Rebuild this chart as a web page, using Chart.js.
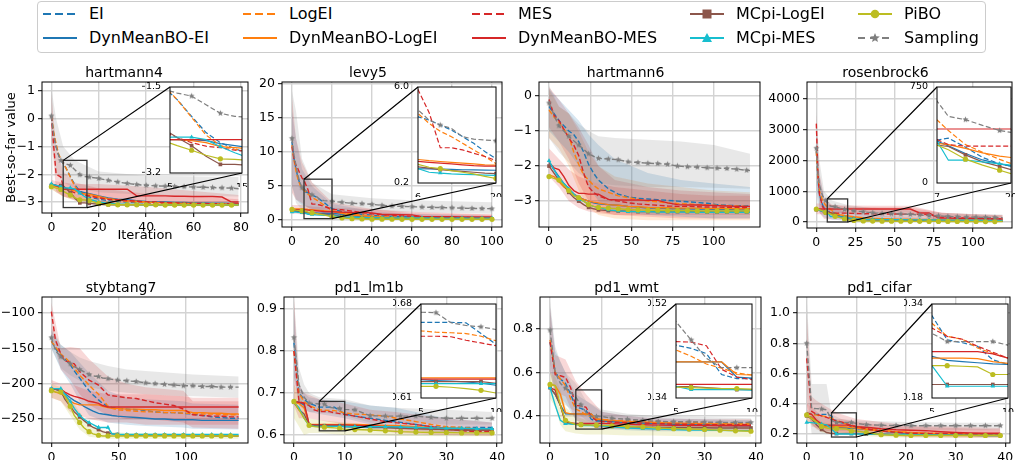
<!DOCTYPE html>
<html>
<head>
<meta charset="utf-8">
<script src="https://cdn.jsdelivr.net/npm/chart.js@4.4.1/dist/chart.umd.min.js"></script>
<style>
body{margin:0;background:#fff;width:1015px;height:460px;position:relative;overflow:hidden;font-family:"DejaVu Sans",sans-serif}
canvas{position:absolute}
#legend{position:absolute;left:37px;top:1px;width:947px;height:50px;border:1px solid #cccccc;border-radius:4px}
.lab{position:absolute;font-size:16px;line-height:20px;white-space:nowrap;color:#000}
</style>
</head>
<body>
<div id="legend"></div>
<script>
// ---- series names (legend order, column by column)
const names = ['EI','DynMeanBO-EI','LogEI','DynMeanBO-LogEI','MES','DynMeanBO-MES','MCpi-LogEI','MCpi-MES','PiBO','Sampling'];

// ---- hartmann4
const h4X = [0,1,2,3,4,5,6,8,10,12,14,16,20,24,28,32,36,40,44,48,52,56,60,64,68,72,76,79];
const h4EI = [0.1,-0.6,-1.0,-1.3,-1.5,-1.62,-1.75,-2.08,-2.4,-2.6,-2.72,-2.82,-2.9,-2.95,-2.98,-3.0,-3.02,-3.03,-3.04,-3.05,-3.05,-3.06,-3.06,-3.07,-3.07,-3.08,-3.08,-3.08];
const h4DynEI = [-2.35,-2.38,-2.4,-2.42,-2.45,-2.54,-2.54,-2.54,-2.56,-2.62,-2.66,-2.7,-2.78,-2.85,-2.9,-2.92,-2.95,-2.98,-3.0,-3.0,-3.02,-3.02,-3.03,-3.03,-3.04,-3.04,-3.05,-3.05];
const h4LogEI = [0.1,-0.5,-0.9,-1.25,-1.45,-1.6,-1.75,-2.1,-2.45,-2.66,-2.73,-2.78,-2.85,-2.9,-2.95,-2.97,-3.0,-3.02,-3.03,-3.04,-3.05,-3.06,-3.06,-3.07,-3.07,-3.08,-3.08,-3.08];
const h4DynLogEI = [-2.4,-2.42,-2.44,-2.46,-2.5,-2.54,-2.54,-2.56,-2.6,-2.68,-2.7,-2.72,-2.8,-2.88,-2.92,-2.95,-2.97,-3.0,-3.02,-3.03,-3.04,-3.05,-3.05,-3.06,-3.06,-3.07,-3.08,-3.08];
const h4MES = [0.1,-1.0,-2.0,-2.05,-2.1,-2.44,-2.5,-2.6,-2.67,-2.7,-2.75,-2.78,-2.85,-2.9,-2.92,-2.95,-2.97,-3.0,-3.0,-3.02,-3.03,-3.04,-3.05,-3.05,-3.06,-3.06,-3.07,-3.07];
const h4DynMES = [-2.35,-2.38,-2.4,-2.45,-2.5,-2.54,-2.54,-2.54,-2.54,-2.54,-2.54,-2.54,-2.54,-2.54,-2.54,-2.54,-2.78,-2.78,-2.78,-2.78,-2.79,-2.79,-2.8,-2.8,-2.8,-2.82,-3.0,-3.0];
const h4McLogEI = [-2.4,-2.4,-2.41,-2.41,-2.41,-2.41,-2.5,-2.66,-2.87,-3.03,-3.03,-3.05,-3.08,-3.1,-3.1,-3.1,-3.1,-3.1,-3.1,-3.1,-3.11,-3.11,-3.11,-3.11,-3.11,-3.11,-3.11,-3.11];
const h4McMES = [-2.35,-2.38,-2.4,-2.42,-2.45,-2.49,-2.49,-2.49,-2.54,-2.68,-2.8,-2.9,-3.0,-3.05,-3.07,-3.08,-3.09,-3.1,-3.1,-3.1,-3.1,-3.1,-3.1,-3.1,-3.1,-3.1,-3.1,-3.1];
const h4PiBO = [-2.45,-2.47,-2.5,-2.52,-2.55,-2.61,-2.66,-2.75,-2.85,-2.92,-2.93,-2.95,-3.05,-3.08,-3.1,-3.1,-3.1,-3.1,-3.1,-3.11,-3.11,-3.11,-3.11,-3.11,-3.11,-3.11,-3.11,-3.11];
const h4Samp = [0.1,-0.6,-1.0,-1.3,-1.5,-1.58,-1.62,-1.68,-1.85,-2.02,-2.08,-2.1,-2.15,-2.22,-2.28,-2.33,-2.37,-2.4,-2.42,-2.43,-2.44,-2.45,-2.46,-2.47,-2.48,-2.49,-2.5,-2.52];
const h4BX = [0,2,5,10,20,40,79];
const h4SampHi = [1.1,0.0,-1.0,-1.5,-1.9,-2.05,-2.1], h4SampLo = [-0.9,-1.9,-2.3,-2.5,-2.65,-2.75,-2.8];
const h4MESHi = [0.9,-1.0,-1.9,-2.3,-2.5,-2.7,-2.9], h4MESLo = [-0.7,-2.6,-2.8,-2.95,-3.05,-3.15,-3.15];
const h4DynMESHi = [-2.2,-2.25,-2.3,-2.35,-2.35,-2.45,-2.75], h4DynMESLo = [-2.5,-2.65,-2.8,-2.9,-3.0,-3.05,-3.1];
const h4PiBOHi = [-2.35,-2.4,-2.5,-2.7,-2.95,-3.05,-3.08], h4PiBOLo = [-2.55,-2.65,-2.8,-2.95,-3.12,-3.14,-3.14];
const h4XTicks = [0,20,40,60,80], h4YTicks = [-3,-2,-1,0,1];
const h4ZoomX = [5,15], h4ZoomY = [-3.2,-1.5];

// ---- levy5
const lvX = [0,1,2,3,4,5,6,8,10,12,14,16,18,20,25,30,35,40,45,50,55,60,65,70,75,80,85,90,95,100];
const lvEI = [11.5,9,7.5,6.2,5.3,4.6,4.2,4.0,3.7,3.4,3.0,2.6,2.1,1.67,1.2,1.0,0.85,0.7,0.6,0.55,0.5,0.45,0.4,0.38,0.35,0.32,0.3,0.28,0.26,0.25];
const lvDynEI = [1.32,1.3,1.28,1.25,1.2,1.15,1.07,1.05,1.04,1.02,1.0,0.99,0.98,0.97,0.85,0.6,0.5,0.45,0.42,0.4,0.36,0.33,0.3,0.3,0.28,0.27,0.26,0.26,0.25,0.25];
const lvLogEI = [11,8.8,7.2,6,5.2,4.6,4.4,3.8,3.32,3.0,2.6,2.2,1.8,1.37,1.1,0.9,0.75,0.6,0.5,0.45,0.4,0.35,0.3,0.28,0.25,0.22,0.2,0.18,0.16,0.15];
const lvDynLogEI = [1.6,1.62,1.63,1.63,1.62,1.62,1.62,1.55,1.5,1.45,1.4,1.35,1.3,1.28,1.0,0.7,0.6,0.5,0.4,0.35,0.32,0.3,0.25,0.22,0.2,0.18,0.17,0.16,0.15,0.15];
const lvMES = [10.8,9,8,7.5,6.8,6.2,5.84,4.45,2.33,2.33,2.2,2.0,1.8,1.56,1.5,1.3,1.1,0.9,0.8,0.7,0.6,0.55,0.5,0.45,0.42,0.4,0.38,0.35,0.32,0.3];
const lvDynMES = [1.5,1.52,1.52,1.52,1.51,1.51,1.51,1.45,1.4,1.35,1.3,1.25,1.22,1.22,1.15,1.1,1.1,1.05,0.8,0.8,0.78,0.75,0.5,0.5,0.48,0.48,0.46,0.45,0.45,0.45];
const lvMcLogEI = [1.4,1.38,1.35,1.3,1.25,1.2,1.17,1.1,1.0,0.95,0.9,0.85,0.8,0.77,0.5,0.3,0.25,0.22,0.2,0.2,0.18,0.18,0.17,0.16,0.16,0.15,0.15,0.15,0.15,0.15];
const lvMcMES = [1.2,1.18,1.15,1.12,1.1,1.08,1.07,0.85,0.8,0.75,0.72,0.7,0.68,0.66,0.45,0.4,0.35,0.32,0.3,0.3,0.3,0.3,0.3,0.28,0.28,0.28,0.28,0.27,0.27,0.27];
const lvPiBO = [1.55,1.5,1.45,1.42,1.4,1.35,1.33,1.15,1.07,0.95,0.85,0.75,0.6,0.47,0.3,0.2,0.15,0.12,0.12,0.11,0.1,0.1,0.1,0.1,0.1,0.1,0.1,0.1,0.1,0.1];
const lvSamp = [12,9.5,8,6.5,5.5,4.75,4.62,4.0,3.7,3.5,3.0,2.85,2.8,2.75,2.6,2.45,2.4,2.3,2.15,2.05,2.0,1.95,1.9,1.85,1.82,1.8,1.75,1.7,1.68,1.65];
const lvBX = [0,2,5,10,20,40,60,100];
const lvSampHi = [19,16,9,5.5,3.8,3.2,2.9,2.6], lvSampLo = [5,2.5,1.5,1.5,1.5,1.3,1.1,0.9];
const lvMESHi = [18,12,8.5,5.5,2.6,1.6,1.2,0.8], lvMESLo = [4,3,2.5,1.3,0.6,0.3,0.2,0.1];
const lvEIHi = [16,12,7.5,5,2.4,1.3,0.9,0.6], lvEILo = [5,3,2.2,1.6,0.5,0.2,0.15,0.1];
const lvDynMESHi = [2.2,2.2,2.2,2.0,1.8,1.6,1.0,0.8], lvDynMESLo = [0.9,0.9,0.8,0.7,0.5,0.3,0.2,0.1];
const lvXTicks = [0,20,40,60,80,100], lvYTicks = [0,5,10,15,20];
const lvZoomX = [6,20], lvZoomY = [0.2,6.0];

// ---- hartmann6
const h6X = [0,3,6,9,12,15,18,21,24,27,30,36,42,48,54,60,66,72,78,84,90,96,102,108,114,120,122];
const h6EI = [-0.3,-0.5,-0.7,-0.85,-1.0,-1.1,-1.3,-1.6,-1.95,-2.2,-2.4,-2.65,-2.8,-2.88,-2.92,-2.94,-2.96,-2.98,-3.0,-3.02,-3.04,-3.06,-3.1,-3.12,-3.13,-3.14,-3.14];
const h6DynEI = [-1.9,-2.1,-2.3,-2.5,-2.65,-2.8,-2.88,-2.95,-3.0,-3.05,-3.08,-3.1,-3.12,-3.15,-3.17,-3.2,-3.2,-3.21,-3.22,-3.22,-3.23,-3.23,-3.24,-3.24,-3.25,-3.25,-3.25];
const h6LogEI = [-0.4,-0.6,-0.75,-0.95,-1.15,-1.6,-1.95,-2.25,-2.4,-2.55,-2.65,-2.75,-2.85,-2.9,-2.95,-3.0,-3.02,-3.05,-3.07,-3.08,-3.1,-3.11,-3.12,-3.13,-3.14,-3.15,-3.15];
const h6DynLogEI = [-2.25,-2.3,-2.45,-2.6,-2.7,-2.8,-2.9,-2.95,-3.0,-3.03,-3.05,-3.1,-3.12,-3.15,-3.16,-3.18,-3.19,-3.19,-3.2,-3.2,-3.2,-3.21,-3.21,-3.21,-3.22,-3.22,-3.22];
const h6MES = [-0.1,-0.55,-0.7,-0.95,-1.2,-1.4,-1.7,-2.2,-2.6,-2.75,-2.85,-2.95,-3.0,-3.05,-3.08,-3.1,-3.12,-3.14,-3.15,-3.15,-3.16,-3.17,-3.17,-3.18,-3.18,-3.19,-3.2];
const h6DynMES = [-1.9,-2.05,-2.1,-2.3,-2.55,-2.7,-2.78,-2.78,-2.8,-2.8,-2.8,-2.95,-2.97,-2.97,-2.97,-2.98,-2.98,-3.05,-3.1,-3.11,-3.11,-3.12,-3.13,-3.14,-3.15,-3.15,-3.15];
const h6McLogEI = [-2.0,-2.2,-2.4,-2.55,-2.75,-2.9,-3.0,-3.1,-3.18,-3.22,-3.25,-3.27,-3.28,-3.29,-3.3,-3.3,-3.3,-3.3,-3.3,-3.3,-3.3,-3.31,-3.31,-3.31,-3.31,-3.31,-3.31];
const h6McMES = [-1.85,-2.1,-2.35,-2.5,-2.65,-2.8,-2.95,-3.0,-3.1,-3.15,-3.18,-3.25,-3.28,-3.3,-3.3,-3.3,-3.31,-3.31,-3.31,-3.31,-3.32,-3.32,-3.32,-3.32,-3.32,-3.32,-3.32];
const h6PiBO = [-2.3,-2.35,-2.4,-2.55,-2.7,-2.85,-2.9,-3.0,-3.1,-3.15,-3.18,-3.2,-3.22,-3.24,-3.25,-3.26,-3.26,-3.27,-3.27,-3.27,-3.28,-3.28,-3.28,-3.28,-3.28,-3.28,-3.28];
const h6Samp = [-0.2,-0.55,-0.85,-1.0,-1.15,-1.28,-1.4,-1.52,-1.65,-1.72,-1.78,-1.8,-1.82,-1.88,-1.9,-1.92,-1.93,-1.95,-2.0,-2.02,-2.03,-2.05,-2.06,-2.07,-2.09,-2.12,-2.13];
const h6BX = [0,6,12,18,24,30,40,60,80,100,122];
const h6SampHi = [0.3,-0.3,-0.5,-0.8,-1.0,-1.15,-1.2,-1.25,-1.3,-1.4,-1.65], h6SampLo = [-1.2,-1.6,-1.9,-2.2,-2.4,-2.5,-2.55,-2.6,-2.6,-2.62,-2.65];
const h6EIHi = [0.2,-0.1,-0.4,-0.7,-1.1,-1.4,-1.8,-2.2,-2.4,-2.5,-2.6], h6EILo = [-1.0,-1.3,-1.6,-2.0,-2.6,-3.0,-3.3,-3.4,-3.45,-3.5,-3.5];
const h6MESHi = [0.25,-0.1,-0.5,-0.9,-1.4,-2.0,-2.4,-2.6,-2.7,-2.75,-2.8], h6MESLo = [-0.9,-1.3,-1.8,-2.5,-3.0,-3.3,-3.4,-3.45,-3.5,-3.5,-3.5];
const h6LogEIHi = [0.2,-0.3,-0.5,-1.0,-1.6,-2.0,-2.3,-2.5,-2.6,-2.7,-2.75], h6LogEILo = [-1.2,-1.5,-2.0,-2.7,-3.2,-3.4,-3.5,-3.55,-3.55,-3.55,-3.55];
const h6DynMESHi = [-1.5,-1.8,-2.1,-2.3,-2.4,-2.5,-2.6,-2.7,-2.8,-2.85,-2.85], h6DynMESLo = [-2.3,-2.6,-3.0,-3.2,-3.3,-3.35,-3.4,-3.4,-3.4,-3.4,-3.4];
const h6XTicks = [0,25,50,75,100], h6YTicks = [-3,-2,-1,0];

// ---- rosenbrock6
const rbX = [0,1,2,4,6,7,9,12,15,18,20,24,30,36,42,48,54,60,66,72,78,84,90,96,102,108,114,119];
const rbEI = [2300,1400,900,550,380,336,350,280,200,150,131,110,90,80,70,60,55,50,48,45,42,40,38,36,35,34,33,32];
const rbDynEI = [420,410,400,370,340,328,290,230,180,150,131,110,90,75,65,58,52,48,45,42,40,38,36,34,33,32,31,30];
const rbLogEI = [2300,1500,1000,700,540,493,410,300,240,185,152,130,110,95,85,75,70,65,60,57,54,51,48,46,44,42,41,40];
const rbDynLogEI = [420,410,400,350,315,309,300,270,235,210,199,170,140,120,110,100,95,90,85,80,75,70,65,60,58,55,52,50];
const rbMES = [3200,1600,900,500,380,340,300,288,288,288,288,280,270,265,262,260,258,255,250,245,160,150,140,130,120,110,100,95];
const rbDynMES = [430,425,422,422,422,422,422,422,422,422,422,422,422,422,422,422,422,422,293,293,130,125,120,115,110,105,100,100];
const rbMcLogEI = [400,390,380,340,305,296,285,220,165,130,105,90,70,55,45,40,36,33,30,28,26,25,24,23,22,21,20,20];
const rbMcMES = [400,390,380,350,330,328,178,178,165,150,139,110,90,80,76,74,72,70,68,66,64,62,60,58,56,54,52,50];
const rbPiBO = [420,410,400,360,310,296,260,186,140,100,73,50,35,30,28,26,24,22,21,20,19,18,17,16,16,15,15,15];
const rbSamp = [2400,1600,1200,850,700,640,520,495,450,410,395,360,330,300,280,270,260,250,230,210,200,180,170,160,155,150,145,140];
const rbBX = [0,2,5,10,20,40,60,80,100,119];
const rbSampHi = [3600,2000,1000,700,550,420,380,300,260,240], rbSampLo = [1200,600,350,300,250,170,130,100,80,70];
const rbMESHi = [3500,1600,800,550,500,480,470,300,250,220], rbMESLo = [2500,300,100,80,80,70,60,40,30,20];
const rbDynMESHi = [600,600,580,560,540,530,530,300,250,220], rbDynMESLo = [250,250,250,280,300,300,300,50,30,20];
const rbEIHi = [3200,1500,800,500,300,200,150,120,100,90], rbEILo = [1000,300,150,80,30,20,15,10,10,10];
const rbXTicks = [0,25,50,75,100], rbYTicks = [0,1000,2000,3000,4000];
const rbZoomX = [7,20], rbZoomY = [0,750];

// ---- stybtang7
const stX = [0,3,7,10,14,17,21,24,28,31,35,38,42,45,49,56,63,70,77,84,91,98,105,112,119,126,133,139];
const stEI = [-140,-150,-160,-165,-173,-182,-192,-200,-210,-216,-223,-228,-232,-234,-235,-236,-237,-238,-240,-241,-241,-242,-243,-245,-247,-248,-249,-249];
const stDynEI = [-208,-208,-210,-214,-220,-224,-228,-232,-236,-239,-242,-243,-244,-245,-246,-247,-248,-249,-250,-250,-251,-251,-251,-252,-252,-252,-252,-252];
const stLogEI = [-140,-148,-158,-163,-170,-178,-188,-194,-202,-208,-215,-222,-232,-235,-237,-238,-239,-240,-240,-241,-241,-242,-242,-243,-243,-244,-244,-244];
const stDynLogEI = [-208,-212,-214,-218,-225,-228,-230,-230,-230,-230,-230,-232,-234,-235,-235,-236,-236,-237,-237,-238,-238,-238,-241,-241,-242,-242,-243,-243];
const stMES = [-98,-138,-158,-168,-170,-172,-183,-188,-195,-198,-202,-208,-216,-217,-218,-220,-221,-224,-227,-229,-231,-236,-244,-245,-246,-246,-247,-247];
const stDynMES = [-207,-207,-208,-212,-216,-218,-220,-222,-225,-226,-228,-231,-233,-233,-233,-233,-233,-233,-233,-233,-233,-233,-233,-233,-233,-233,-233,-233];
const stMcLogEI = [-208,-208,-210,-222,-232,-240,-247,-252,-258,-262,-265,-268,-270,-271,-272,-273,-273,-273,-273,-273,-273,-273,-274,-274,-274,-274,-274,-274];
const stMcMES = [-207,-207,-207,-215,-225,-235,-245,-250,-255,-258,-262,-262,-262,-271,-272,-272,-272,-272,-272,-272,-272,-272,-272,-272,-272,-272,-272,-272];
const stPiBO = [-210,-212,-212,-218,-232,-245,-255,-262,-268,-271,-273,-274,-274,-274,-274,-274,-274,-274,-274,-274,-274,-274,-274,-274,-274,-274,-274,-274];
const stSamp = [-135,-153,-162,-167,-172,-176,-180,-183,-187,-189,-190,-192,-193,-194,-195,-196,-197,-199,-200,-201,-202,-203,-203,-204,-204,-205,-205,-205];
const stBX = [0,7,14,21,28,42,56,70,98,105,139];
const stSampHi = [-120,-145,-155,-163,-168,-175,-180,-182,-186,-187,-190], stSampLo = [-150,-178,-188,-196,-205,-210,-213,-215,-218,-218,-220];
const stMESHi = [-85,-150,-148,-150,-165,-190,-200,-205,-210,-225,-225], stMESLo = [-130,-180,-195,-215,-230,-245,-250,-250,-255,-262,-264];
const stDynMESHi = [-195,-200,-200,-205,-210,-215,-215,-215,-218,-220,-220], stDynMESLo = [-220,-225,-240,-245,-250,-255,-255,-258,-258,-258,-258];
const stEIHi = [-125,-145,-155,-170,-185,-210,-220,-222,-225,-228,-230], stEILo = [-150,-180,-200,-225,-245,-255,-258,-260,-262,-264,-265];
const stPiBOHi = [-200,-205,-220,-240,-258,-268,-270,-270,-271,-271,-271], stPiBOLo = [-220,-225,-245,-265,-275,-278,-278,-278,-278,-278,-278];
const stXTicks = [0,50,100], stYTicks = [-250,-200,-150,-100];

// ---- pd1 tasks share one iteration grid
const pdX = [0,1,2,3,4,5,6,7,8,9,10,12,15,18,21,24,27,30,33,36,39];
const pdXTicks = [0,10,20,30,40];
const pdZoomX = [5,10];

// pd1_lm1b
const lmEI = [0.82,0.7,0.685,0.675,0.671,0.6663,0.6663,0.6663,0.666,0.658,0.65,0.645,0.64,0.635,0.63,0.625,0.62,0.618,0.618,0.618,0.618];
const lmDynEI = [0.68,0.678,0.672,0.625,0.624,0.6237,0.623,0.6225,0.622,0.621,0.6195,0.619,0.618,0.618,0.617,0.617,0.616,0.616,0.615,0.615,0.615];
const lmLogEI = [0.8,0.7,0.68,0.67,0.665,0.66,0.659,0.6586,0.658,0.656,0.6526,0.65,0.648,0.645,0.638,0.632,0.625,0.62,0.618,0.615,0.615];
const lmDynLogEI = [0.678,0.675,0.665,0.626,0.625,0.625,0.625,0.625,0.625,0.625,0.625,0.625,0.624,0.623,0.622,0.62,0.618,0.617,0.615,0.614,0.613];
const lmMES = [0.8,0.68,0.675,0.67,0.66,0.656,0.656,0.6556,0.653,0.651,0.6489,0.645,0.638,0.632,0.628,0.625,0.62,0.615,0.61,0.608,0.608];
const lmDynMES = [0.68,0.678,0.676,0.625,0.624,0.624,0.624,0.624,0.624,0.624,0.624,0.623,0.622,0.62,0.618,0.616,0.614,0.613,0.612,0.612,0.612];
const lmMcLogEI = [0.678,0.66,0.65,0.623,0.6225,0.6222,0.6222,0.6222,0.6222,0.6222,0.621,0.62,0.62,0.618,0.616,0.615,0.614,0.613,0.612,0.612,0.612];
const lmMcMES = [0.678,0.665,0.64,0.622,0.621,0.6207,0.6207,0.6207,0.6207,0.6207,0.6207,0.62,0.62,0.62,0.619,0.618,0.617,0.616,0.616,0.615,0.615];
const lmPiBO = [0.68,0.66,0.64,0.623,0.62,0.6187,0.6187,0.618,0.617,0.6157,0.6137,0.613,0.612,0.61,0.608,0.607,0.606,0.606,0.605,0.605,0.605];
const lmSamp = [0.832,0.72,0.69,0.676,0.675,0.674,0.6735,0.666,0.664,0.663,0.661,0.66,0.646,0.645,0.645,0.645,0.642,0.64,0.64,0.64,0.64];
const lmBX = [0,1,2,3,5,10,15,20,30,39];
const lmSampHi = [0.93,0.76,0.72,0.7,0.69,0.685,0.67,0.665,0.66,0.655], lmSampLo = [0.74,0.68,0.665,0.655,0.655,0.645,0.63,0.63,0.625,0.625];
const lmMESHi = [0.93,0.72,0.7,0.695,0.685,0.675,0.66,0.655,0.64,0.63], lmMESLo = [0.67,0.64,0.64,0.64,0.635,0.625,0.615,0.605,0.6,0.598];
const lmEIHi = [0.9,0.72,0.7,0.69,0.685,0.68,0.67,0.665,0.64,0.63], lmEILo = [0.74,0.67,0.66,0.655,0.65,0.64,0.625,0.615,0.605,0.605];
const lmPiBOHi = [0.72,0.7,0.68,0.64,0.635,0.63,0.625,0.62,0.618,0.615], lmPiBOLo = [0.64,0.62,0.6,0.605,0.605,0.6,0.6,0.598,0.597,0.597];
const lmYTicks = [0.6,0.7,0.8,0.9];
const lmZoomY = [0.61,0.68];

// pd1_wmt
const wmEI = [0.74,0.6,0.57,0.55,0.5,0.441,0.435,0.425,0.385,0.377,0.377,0.375,0.372,0.37,0.368,0.366,0.364,0.362,0.361,0.36,0.36];
const wmDynEI = [0.53,0.5,0.45,0.41,0.409,0.409,0.409,0.409,0.409,0.38,0.378,0.375,0.37,0.368,0.365,0.362,0.36,0.358,0.357,0.356,0.355];
const wmLogEI = [0.75,0.6,0.57,0.54,0.48,0.432,0.42,0.405,0.397,0.388,0.384,0.38,0.378,0.376,0.375,0.373,0.372,0.37,0.368,0.366,0.365];
const wmDynLogEI = [0.545,0.54,0.5,0.415,0.41,0.409,0.409,0.409,0.409,0.385,0.384,0.38,0.375,0.373,0.37,0.368,0.366,0.365,0.363,0.362,0.36];
const wmMES = [0.74,0.59,0.585,0.578,0.53,0.448,0.447,0.44,0.395,0.38,0.375,0.372,0.37,0.368,0.365,0.363,0.362,0.36,0.36,0.36,0.36];
const wmDynMES = [0.53,0.52,0.45,0.37,0.368,0.366,0.366,0.366,0.366,0.366,0.366,0.365,0.362,0.36,0.358,0.357,0.356,0.356,0.355,0.355,0.355];
const wmMcLogEI = [0.53,0.5,0.45,0.37,0.365,0.3624,0.362,0.36,0.358,0.356,0.356,0.354,0.35,0.349,0.348,0.347,0.346,0.346,0.345,0.345,0.345];
const wmMcMES = [0.53,0.45,0.38,0.365,0.363,0.362,0.356,0.356,0.356,0.356,0.355,0.35,0.345,0.342,0.34,0.338,0.336,0.335,0.334,0.333,0.333];
const wmPiBO = [0.545,0.54,0.45,0.38,0.37,0.361,0.36,0.359,0.358,0.358,0.357,0.355,0.352,0.35,0.345,0.342,0.34,0.338,0.335,0.332,0.33];
const wmSamp = [0.795,0.6,0.55,0.528,0.51,0.486,0.451,0.416,0.398,0.398,0.398,0.39,0.385,0.38,0.375,0.374,0.373,0.372,0.371,0.37,0.37];
const wmBX = [0,1,2,3,5,7,10,15,20,30,39];
const wmSampHi = [0.93,0.72,0.65,0.6,0.55,0.47,0.43,0.41,0.4,0.395,0.39], wmSampLo = [0.65,0.5,0.46,0.45,0.42,0.38,0.36,0.35,0.345,0.345,0.345];
const wmMESHi = [0.9,0.68,0.67,0.66,0.56,0.5,0.42,0.4,0.39,0.385,0.385], wmMESLo = [0.6,0.5,0.5,0.49,0.38,0.36,0.34,0.34,0.335,0.335,0.335];
const wmEIHi = [0.9,0.7,0.65,0.6,0.5,0.47,0.42,0.4,0.39,0.385,0.38], wmEILo = [0.6,0.5,0.48,0.46,0.38,0.36,0.34,0.335,0.33,0.33,0.33];
const wmPiBOHi = [0.6,0.58,0.52,0.44,0.4,0.38,0.375,0.37,0.365,0.36,0.355], wmPiBOLo = [0.48,0.44,0.36,0.33,0.32,0.315,0.315,0.31,0.31,0.305,0.305];
const wmYTicks = [0.4,0.6,0.8];
const wmZoomY = [0.34,0.52];

// pd1_cifar
const cfEI = [0.34,0.33,0.33,0.33,0.33,0.32,0.279,0.274,0.268,0.245,0.237,0.23,0.22,0.212,0.205,0.203,0.202,0.201,0.2,0.2,0.2];
const cfDynEI = [0.32,0.31,0.28,0.26,0.255,0.251,0.244,0.242,0.24,0.238,0.237,0.23,0.22,0.21,0.205,0.2,0.198,0.197,0.196,0.195,0.195];
const cfLogEI = [0.33,0.33,0.325,0.32,0.315,0.307,0.285,0.28,0.265,0.256,0.248,0.24,0.225,0.215,0.21,0.205,0.203,0.2,0.2,0.2,0.2];
const cfDynLogEI = [0.32,0.31,0.28,0.255,0.25,0.248,0.248,0.248,0.247,0.242,0.239,0.23,0.22,0.215,0.21,0.205,0.203,0.202,0.201,0.2,0.2];
const cfMES = [0.7,0.35,0.33,0.32,0.31,0.299,0.285,0.28,0.268,0.258,0.248,0.235,0.22,0.212,0.205,0.204,0.203,0.202,0.2,0.2,0.2];
const cfDynMES = [0.34,0.33,0.29,0.265,0.26,0.259,0.259,0.259,0.259,0.255,0.248,0.245,0.235,0.228,0.225,0.222,0.215,0.21,0.207,0.205,0.205];
const cfMcLogEI = [0.32,0.3,0.26,0.23,0.21,0.203,0.203,0.203,0.203,0.203,0.203,0.2,0.198,0.196,0.195,0.194,0.193,0.192,0.191,0.19,0.19];
const cfMcMES = [0.277,0.275,0.27,0.265,0.26,0.235,0.2,0.2,0.2,0.2,0.2,0.2,0.198,0.196,0.195,0.194,0.193,0.192,0.191,0.19,0.19];
const cfPiBO = [0.326,0.3,0.28,0.25,0.24,0.235,0.235,0.234,0.233,0.22,0.22,0.21,0.195,0.192,0.19,0.19,0.19,0.19,0.19,0.19,0.19];
const cfSamp = [0.8,0.37,0.368,0.365,0.36,0.29,0.276,0.276,0.276,0.276,0.27,0.262,0.258,0.256,0.255,0.255,0.255,0.255,0.255,0.255,0.255];
const cfBX = [0,1,2,3,4,5,7,10,15,20,30,39];
const cfSampHi = [1.1,0.53,0.53,0.53,0.53,0.33,0.3,0.29,0.285,0.28,0.275,0.275], cfSampLo = [0.5,0.2,0.2,0.2,0.2,0.22,0.22,0.22,0.225,0.225,0.225,0.225];
const cfMESHi = [1.0,0.45,0.42,0.4,0.38,0.36,0.33,0.3,0.28,0.26,0.25,0.24], cfMESLo = [0.4,0.25,0.24,0.23,0.22,0.22,0.21,0.2,0.19,0.18,0.175,0.175];
const cfDynMESHi = [0.4,0.38,0.35,0.32,0.31,0.3,0.3,0.28,0.26,0.25,0.24,0.23], cfDynMESLo = [0.28,0.27,0.23,0.22,0.21,0.21,0.21,0.21,0.2,0.19,0.185,0.18];
const cfPiBOHi = [0.36,0.34,0.31,0.28,0.275,0.27,0.26,0.25,0.22,0.21,0.205,0.205], cfPiBOLo = [0.29,0.26,0.24,0.21,0.205,0.2,0.2,0.19,0.18,0.175,0.175,0.175];
const cfYTicks = [0.2,0.4,0.6,0.8,1.0];
const cfZoomY = [0.18,0.34];

// ---- styles
const colors = ['#1f77b4','#1f77b4','#ff7f0e','#ff7f0e','#d62728','#d62728','#8c564b','#17becf','#bcbd22','#7f7f7f'];
const dashed = [true,false,true,false,true,false,false,false,false,true];
const markers = [null,null,null,null,null,null,'rect','triangle','circle','star'];
const FONT = "'DejaVu Sans', sans-serif";
Chart.defaults.font.family = FONT;
Chart.defaults.color = '#000';

function rgba(hex, a) {
    const n = parseInt(hex.slice(1), 16);
    return `rgba(${n >> 16},${(n >> 8) & 255},${n & 255},${a})`;
}

function starImage(color, r) {
    const c = document.createElement('canvas');
    const s = Math.ceil(r * 2) + 2;
    c.width = c.height = s;
    const g = c.getContext('2d');
    g.fillStyle = color;
    g.beginPath();
    for (let k = 0; k < 10; k++) {
        const rr = k % 2 ? r * 0.45 : r;
        const a = -Math.PI / 2 + k * Math.PI / 5;
        g.lineTo(s / 2 + rr * Math.cos(a), s / 2 + rr * Math.sin(a));
    }
    g.closePath();
    g.fill();
    return c;
}
const starImg = starImage('#7f7f7f', 3.2);

// panel layout: plot box in page pixels, ranges and ticks
const panels = [
    {title: 'hartmann4', box: [42, 82, 248, 213], xr: [-3.95, 82.95], yr: [-3.396, 1.324], xs: h4X,
     ys: [h4EI, h4DynEI, h4LogEI, h4DynLogEI, h4MES, h4DynMES, h4McLogEI, h4McMES, h4PiBO, h4Samp],
     bx: h4BX, bands: [[9, h4SampLo, h4SampHi], [4, h4MESLo, h4MESHi], [5, h4DynMESLo, h4DynMESHi], [8, h4PiBOLo, h4PiBOHi]],
     xt: h4XTicks, yt: h4YTicks, dec: 0, every: 4, xTitle: 'Iteration', yTitle: 'Best-so-far value',
     inset: {box: [170, 87, 242, 173], xr: h4ZoomX, yr: h4ZoomY, dec: 1}},
    {title: 'levy5', box: [282, 82, 502, 227], xr: [-5, 105], yr: [-1.03, 20.29], xs: lvX,
     ys: [lvEI, lvDynEI, lvLogEI, lvDynLogEI, lvMES, lvDynMES, lvMcLogEI, lvMcMES, lvPiBO, lvSamp],
     bx: lvBX, bands: [[9, lvSampLo, lvSampHi], [4, lvMESLo, lvMESHi], [0, lvEILo, lvEIHi], [5, lvDynMESLo, lvDynMESHi]],
     xt: lvXTicks, yt: lvYTicks, dec: 0, every: 5,
     inset: {box: [418, 87, 496, 183], xr: lvZoomX, yr: lvZoomY, dec: 1}},
    {title: 'hartmann6', box: [539, 82, 760, 227], xr: [-6.1, 128.1], yr: [-3.74, 0.4], xs: h6X,
     ys: [h6EI, h6DynEI, h6LogEI, h6DynLogEI, h6MES, h6DynMES, h6McLogEI, h6McMES, h6PiBO, h6Samp],
     bx: h6BX, bands: [[9, h6SampLo, h6SampHi], [0, h6EILo, h6EIHi], [4, h6MESLo, h6MESHi], [2, h6LogEILo, h6LogEIHi], [5, h6DynMESLo, h6DynMESHi]],
     xt: h6XTicks, yt: h6YTicks, dec: 0, every: 6},
    {title: 'rosenbrock6', box: [807, 82, 1012, 228], xr: [-5.95, 124.95], yr: [-195, 4553], xs: rbX,
     ys: [rbEI, rbDynEI, rbLogEI, rbDynLogEI, rbMES, rbDynMES, rbMcLogEI, rbMcMES, rbPiBO, rbSamp],
     bx: rbBX, bands: [[9, rbSampLo, rbSampHi], [4, rbMESLo, rbMESHi], [5, rbDynMESLo, rbDynMESHi], [0, rbEILo, rbEIHi]],
     xt: rbXTicks, yt: rbYTicks, dec: 0, every: 6,
     inset: {box: [937, 87, 1011, 183], xr: rbZoomX, yr: rbZoomY, dec: 0}},
    {title: 'stybtang7', box: [42, 297, 248, 443], xr: [-6.95, 145.95], yr: [-284, -77.4], xs: stX,
     ys: [stEI, stDynEI, stLogEI, stDynLogEI, stMES, stDynMES, stMcLogEI, stMcMES, stPiBO, stSamp],
     bx: stBX, bands: [[9, stSampLo, stSampHi], [4, stMESLo, stMESHi], [5, stDynMESLo, stDynMESHi], [0, stEILo, stEIHi], [8, stPiBOLo, stPiBOHi]],
     xt: stXTicks, yt: stYTicks, dec: 0, every: 7},
    {title: 'pd1_lm1b', box: [284, 297, 502, 443], xr: [-1.95, 40.95], yr: [0.581, 0.9286], xs: pdX,
     ys: [lmEI, lmDynEI, lmLogEI, lmDynLogEI, lmMES, lmDynMES, lmMcLogEI, lmMcMES, lmPiBO, lmSamp],
     bx: lmBX, bands: [[9, lmSampLo, lmSampHi], [4, lmMESLo, lmMESHi], [0, lmEILo, lmEIHi], [8, lmPiBOLo, lmPiBOHi]],
     xt: pdXTicks, yt: lmYTicks, dec: 1, every: 3,
     inset: {box: [421, 304, 496, 398], xr: pdZoomX, yr: lmZoomY, dec: 2}},
    {title: 'pd1_wmt', box: [540, 297, 761, 443], xr: [-1.95, 40.95], yr: [0.276, 0.947], xs: pdX,
     ys: [wmEI, wmDynEI, wmLogEI, wmDynLogEI, wmMES, wmDynMES, wmMcLogEI, wmMcMES, wmPiBO, wmSamp],
     bx: wmBX, bands: [[9, wmSampLo, wmSampHi], [4, wmMESLo, wmMESHi], [0, wmEILo, wmEIHi], [8, wmPiBOLo, wmPiBOHi]],
     xt: pdXTicks, yt: wmYTicks, dec: 1, every: 3,
     inset: {box: [676, 304, 752, 398], xr: pdZoomX, yr: wmZoomY, dec: 2}},
    {title: 'pd1_cifar', box: [797, 297, 1010, 443], xr: [-1.95, 40.95], yr: [0.1405, 1.106], xs: pdX,
     ys: [cfEI, cfDynEI, cfLogEI, cfDynLogEI, cfMES, cfDynMES, cfMcLogEI, cfMcMES, cfPiBO, cfSamp],
     bx: cfBX, bands: [[9, cfSampLo, cfSampHi], [4, cfMESLo, cfMESHi], [5, cfDynMESLo, cfDynMESHi], [8, cfPiBOLo, cfPiBOHi]],
     xt: pdXTicks, yt: cfYTicks, dec: 1, every: 3,
     inset: {box: [932, 304, 1008, 398], xr: pdZoomX, yr: cfZoomY, dec: 2}}
];

function fmt(v, d) {
    return (v < 0 ? '\u2212' : '') + Math.abs(v).toFixed(d);
}

function addCanvas(l, t, w, h) {
    const c = document.createElement('canvas');
    c.width = w; c.height = h;
    c.style.left = l + 'px'; c.style.top = t + 'px';
    c.style.width = w + 'px'; c.style.height = h + 'px';
    document.body.appendChild(c);
    return c;
}

function lineSets(p, lw) {
    return p.ys.map((ys, i) => ({
        data: p.xs.map((x, j) => ({x: x, y: ys[j]})),
        borderColor: colors[i],
        backgroundColor: colors[i],
        borderWidth: lw,
        borderDash: dashed[i] ? [5, 2.5] : [],
        pointStyle: markers[i] === 'star' ? starImg : (markers[i] || 'circle'),
        pointRadius: markers[i] ? (c => (p.xs[c.dataIndex] % p.every === 0 ? 2.6 : 0)) : 0,
        pointBorderWidth: 0,
        fill: false,
        tension: 0,
        order: 10 - i
    }));
}

function bandSets(p) {
    const out = [];
    p.bands.forEach(b => {
        const [k, lo, hi] = b;
        out.push({data: p.bx.map((x, j) => ({x: x, y: hi[j]})), borderWidth: 0, borderColor: 'rgba(0,0,0,0)',
                  pointRadius: 0, backgroundColor: rgba(colors[k], 0.18), fill: '+1', order: 100});
        out.push({data: p.bx.map((x, j) => ({x: x, y: lo[j]})), borderWidth: 0, borderColor: 'rgba(0,0,0,0)',
                  pointRadius: 0, fill: false, order: 100});
    });
    return out;
}

const framePlugin = {
    id: 'frame',
    beforeDatasetsDraw(chart, args, opts) {
        if (!opts.white) return;
        const a = chart.chartArea, ctx = chart.ctx;
        ctx.save();
        ctx.fillStyle = '#fff';
        ctx.fillRect(a.left, a.top, a.right - a.left, a.bottom - a.top);
        ctx.restore();
    },
    afterDraw(chart) {
        const a = chart.chartArea, ctx = chart.ctx;
        ctx.save();
        ctx.strokeStyle = '#000';
        ctx.lineWidth = 1;
        ctx.strokeRect(a.left, a.top, a.right - a.left, a.bottom - a.top);
        ctx.restore();
    }
};

function drawPanel(p) {
    const [L, T, R, B] = p.box;
    const padL = p.yTitle ? L : 48, padT = 24, padB = p.xTitle ? 31 : 22, padR = 10;
    const ox = L - padL, oy = T - padT;
    const cv = addCanvas(ox, oy, R - L + padL + padR, B - T + padT + padB);
    const zoomPlugin = {
        id: 'zoomBox',
        afterDatasetsDraw(chart) {
            if (!p.inset) return;
            const q = p.inset, sx = chart.scales.x, sy = chart.scales.y, ctx = chart.ctx;
            const x0 = sx.getPixelForValue(q.xr[0]), x1 = sx.getPixelForValue(q.xr[1]);
            const y0 = sy.getPixelForValue(q.yr[0]), y1 = sy.getPixelForValue(q.yr[1]);
            ctx.save();
            ctx.strokeStyle = '#333';
            ctx.lineWidth = 1.3;
            ctx.strokeRect(x0, y1, x1 - x0, y0 - y1);
            ctx.strokeStyle = '#000';
            ctx.lineWidth = 1.2;
            ctx.beginPath();
            ctx.moveTo(x0, y1);
            ctx.lineTo(q.box[0] - ox, q.box[1] - oy);
            ctx.moveTo(x1, y0);
            ctx.lineTo(q.box[2] - ox, q.box[3] - oy);
            ctx.stroke();
            ctx.restore();
        }
    };
    const grid = {color: '#d3d3d3', lineWidth: 1.4, tickColor: '#000', tickLength: 4, tickWidth: 1};
    new Chart(cv, {
        type: 'line',
        data: {datasets: lineSets(p, 1.4).concat(bandSets(p))},
        options: {
            responsive: false, animation: false, devicePixelRatio: 1, events: [],
            layout: {padding: {left: 0, top: 0, right: padR, bottom: 0}},
            plugins: {
                legend: {display: false}, tooltip: {enabled: false},
                title: {display: true, text: p.title, color: '#000', font: {size: 14, weight: 'normal'},
                        padding: {top: padT - 16.8, bottom: 0}},
                frame: {white: false}
            },
            scales: {
                x: {type: 'linear', min: p.xr[0], max: p.xr[1],
                    afterBuildTicks: s => { s.ticks = p.xt.map(v => ({value: v})); },
                    afterFit: s => { s.height = padB; },
                    grid: grid, border: {display: false},
                    ticks: {font: {size: 12.5}, padding: 3, maxRotation: 0, autoSkip: false, callback: v => fmt(v, 0)},
                    title: {display: !!p.xTitle, text: p.xTitle || '', font: {size: 13}, padding: {top: 0, bottom: 1}}},
                y: {type: 'linear', min: p.yr[0], max: p.yr[1],
                    afterBuildTicks: s => { s.ticks = p.yt.map(v => ({value: v})); },
                    afterFit: s => { s.width = padL; },
                    grid: grid, border: {display: false},
                    ticks: {font: {size: 12.5}, padding: 3, autoSkip: false, callback: v => fmt(v, p.dec)},
                    title: {display: !!p.yTitle, text: p.yTitle || '', font: {size: 13}, padding: {top: 4, bottom: 0}}}
            }
        },
        plugins: [framePlugin, zoomPlugin]
    });
}

function drawInset(p) {
    const q = p.inset;
    const [L, T, R, B] = q.box;
    const padL = 28, padT = 8, padR = 9, padB = 14;
    const cv = addCanvas(L - padL, T - padT, R - L + padL + padR, B - T + padT + padB);
    const noGrid = {display: false};
    new Chart(cv, {
        type: 'line',
        data: {datasets: lineSets(p, 1.2)},
        options: {
            responsive: false, animation: false, devicePixelRatio: 1, events: [],
            layout: {padding: {left: 0, top: padT, right: padR, bottom: 0}},
            plugins: {legend: {display: false}, tooltip: {enabled: false}, title: {display: false}, frame: {white: true}},
            scales: {
                x: {type: 'linear', min: q.xr[0], max: q.xr[1],
                    afterBuildTicks: s => { s.ticks = q.xr.map(v => ({value: v})); },
                    afterFit: s => { s.height = padB; },
                    grid: noGrid, border: {display: false},
                    ticks: {font: {size: 9.5}, padding: 1, maxRotation: 0, autoSkip: false, callback: v => fmt(v, 0)}},
                y: {type: 'linear', min: q.yr[0], max: q.yr[1],
                    afterBuildTicks: s => { s.ticks = q.yr.map(v => ({value: v})); },
                    afterFit: s => { s.width = padL; },
                    grid: noGrid, border: {display: false},
                    ticks: {font: {size: 9.5}, padding: 1, autoSkip: false, callback: v => fmt(v, q.dec)}}
            }
        },
        plugins: [framePlugin]
    });
}

panels.forEach(drawPanel);
panels.forEach(p => { if (p.inset) drawInset(p); });

// ---- legend
const legendHandleX = [43, 243, 472, 690, 858];
const legendRowY = [14, 38];
names.forEach((n, i) => {
    const col = Math.floor(i / 2), row = i % 2;
    const cy = legendRowY[row];
    const hc = addCanvas(legendHandleX[col], cy - 8, 36, 16);
    const g = hc.getContext('2d');
    g.strokeStyle = colors[i];
    g.fillStyle = colors[i];
    g.lineWidth = 2.2;
    g.setLineDash(i === 9 ? [7, 5] : (dashed[i] ? [8, 4] : []));
    g.beginPath(); g.moveTo(0, 8); g.lineTo(34, 8); g.stroke();
    const m = markers[i];
    if (m === 'rect') g.fillRect(17 - 4.5, 8 - 4.5, 9, 9);
    if (m === 'circle') { g.beginPath(); g.arc(17, 8, 4.3, 0, Math.PI * 2); g.fill(); }
    if (m === 'triangle') { g.beginPath(); g.moveTo(17, 3); g.lineTo(22, 12); g.lineTo(12, 12); g.closePath(); g.fill(); }
    if (m === 'star') g.drawImage(starImage(colors[i], 5), 17 - 6, 8 - 6);
    const s = document.createElement('span');
    s.className = 'lab';
    s.textContent = n;
    s.style.left = (legendHandleX[col] + 46) + 'px';
    s.style.top = (cy - 10) + 'px';
    document.body.appendChild(s);
});
</script>
</body>
</html>
